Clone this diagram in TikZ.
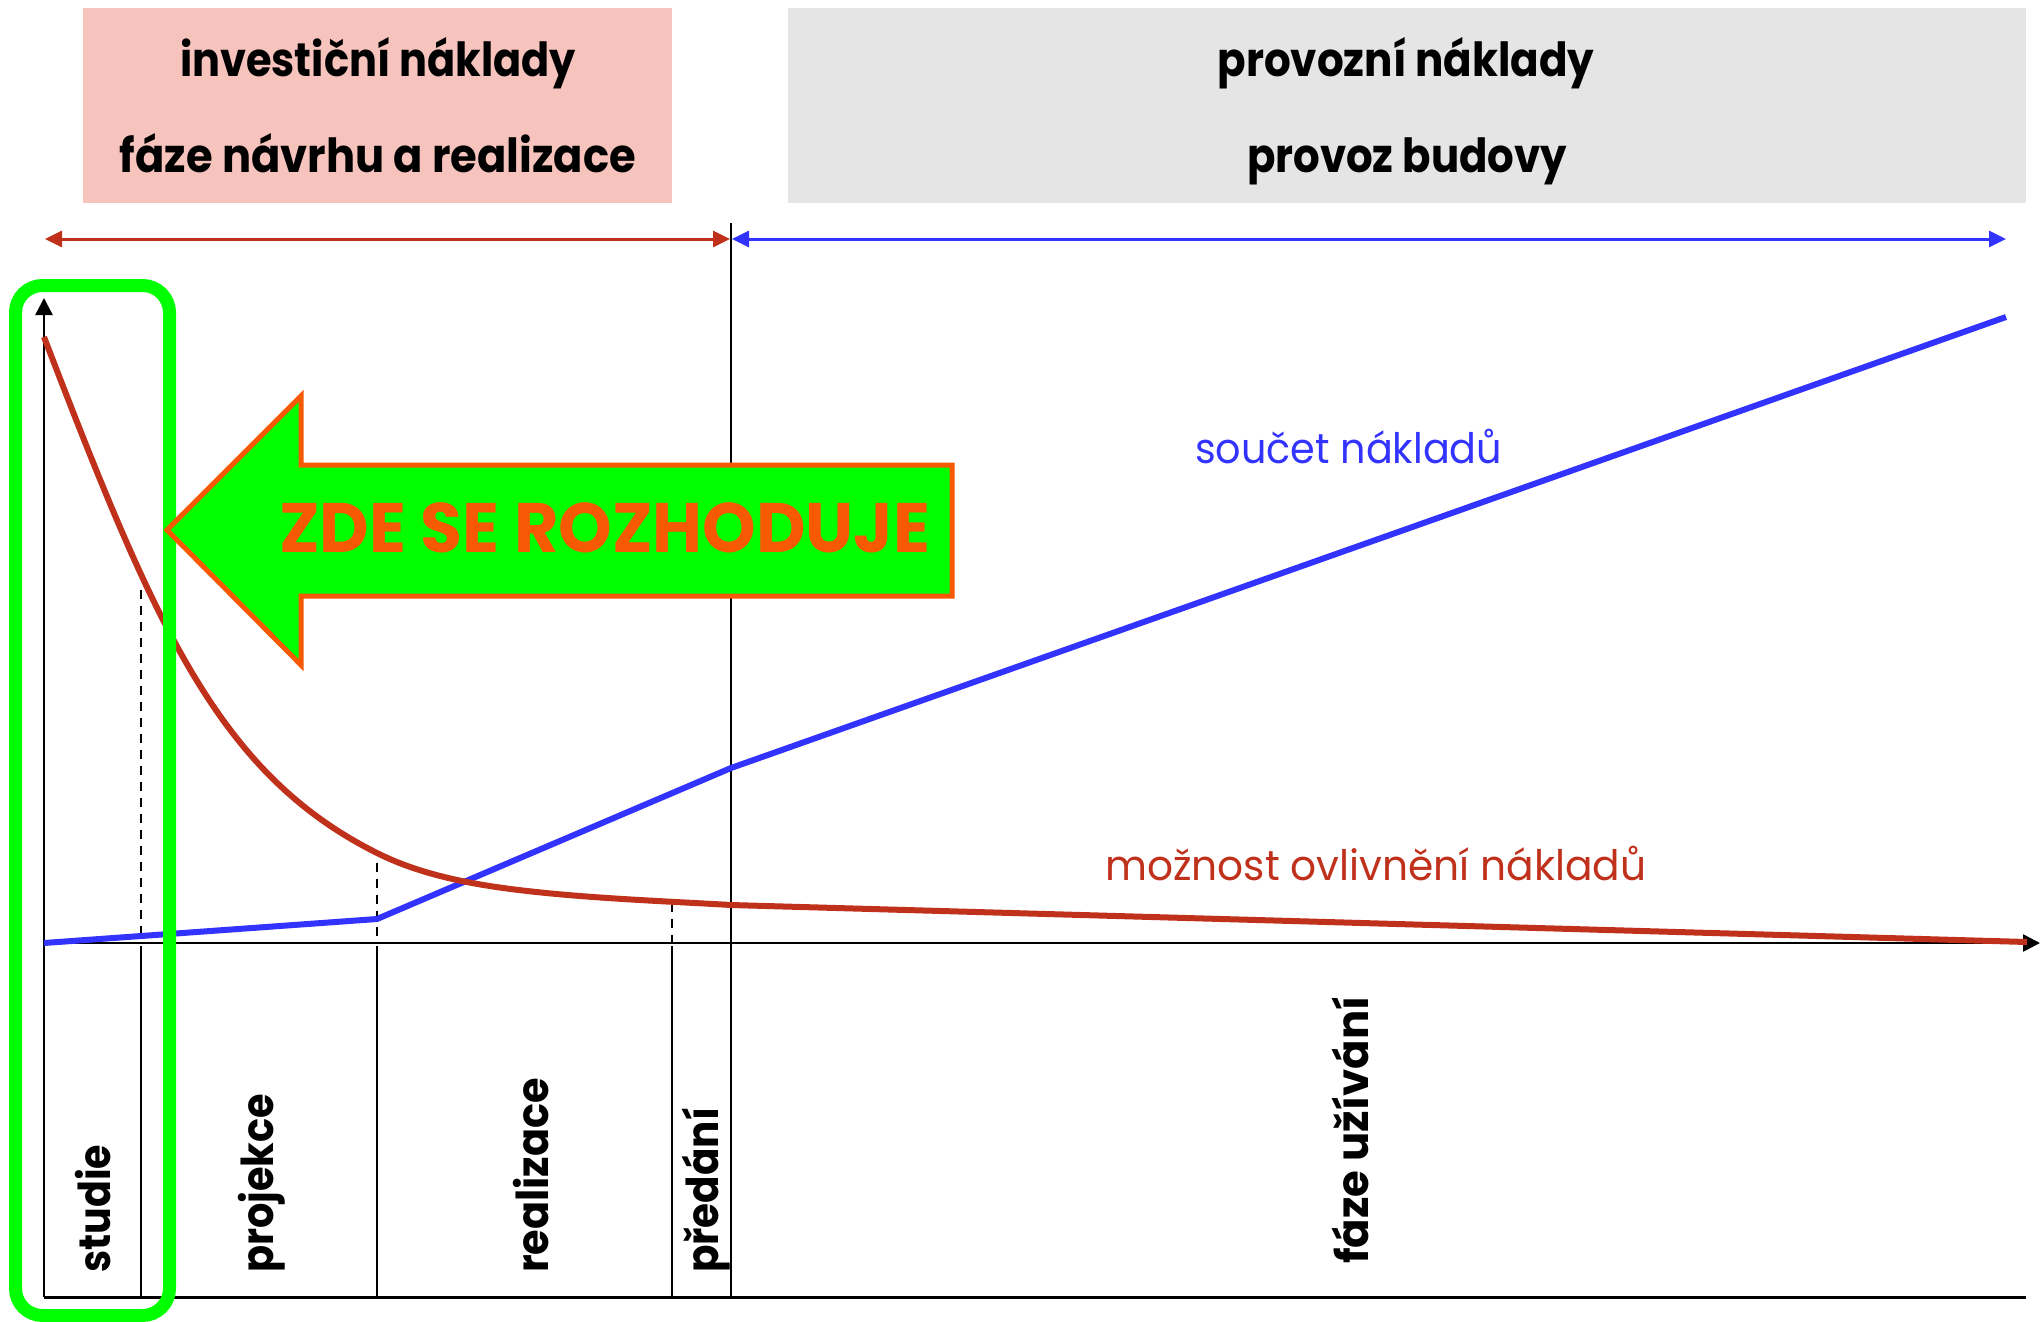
\documentclass[tikz,border=0pt]{standalone}
\usepackage{fontspec}
\setmainfont{Poppins}
\usepackage{graphicx}
\usetikzlibrary{arrows.meta}
\definecolor{cred}{RGB}{192,49,28}
\definecolor{cblue}{RGB}{51,51,255}
\definecolor{cgreen}{RGB}{0,255,0}
\definecolor{corange}{RGB}{247,89,5}
\definecolor{cpink}{RGB}{246,195,189}
\definecolor{cgrey}{RGB}{229,229,229}
\newcommand\fitw[2]{\resizebox{#1}{\height}{#2}}
\tikzset{
  hd/.style={inner sep=0pt, anchor=base, font=\bfseries\fontsize{47}{50}\selectfont},
  phase/.style={inner sep=0pt, anchor=base west, rotate=90, font=\bfseries\fontsize{44}{48}\selectfont},
  lbl/.style={inner sep=0pt, anchor=base west, font=\fontsize{42}{46}\selectfont},
  sepline/.style={line width=2.2pt},
  dsh/.style={line width=2.2pt, dash pattern=on 9pt off 7pt},
  axis/.style={line width=2.5pt, -{Triangle[length=17pt,width=17pt]}},
  span/.style={line width=3pt, {Triangle[length=17pt,width=16pt]}-{Triangle[length=17pt,width=16pt]}},
  curve/.style={line width=6pt},
}
\begin{document}
\begin{tikzpicture}[x=1pt,y=-1pt]
\useasboundingbox (0,0) rectangle (2040,1322);
% header boxes
\fill[cpink] (83,8) rectangle (672,203);
\fill[cgrey] (788,8) rectangle (2026,203);
\node[hd] (h1) at (378,76) {\fitw{396pt}{investiční náklady}};
\node[hd] (h2) at (378,172) {\fitw{516pt}{fáze návrhu a realizace}};
\node[hd] (h3) at (1406,76) {\fitw{377pt}{provozní náklady}};
\node[hd] (h4) at (1407,172) {\fitw{320pt}{provoz budovy}};
% coordinates
\coordinate (o) at (44,943);
\coordinate (ytop) at (44,298);
\coordinate (ybot) at (44,1297);
\coordinate (xend) at (2040,943);
\coordinate (bend) at (2026,1297);
\coordinate (vtop) at (731,223);
\coordinate (vbot) at (731,1297);
\coordinate (ra1) at (45,239);
\coordinate (ra2) at (730,239);
\coordinate (ba1) at (732,239);
\coordinate (ba2) at (2006,239);
% span arrows
\draw[span, cred] (ra1) -- (ra2);
\draw[span, cblue] (ba1) -- (ba2);
% frame lines
\draw[sepline, line width=2.5pt] (vtop) -- (vbot);
\draw[sepline, line width=3pt] (ybot) -- (bend);
\draw[axis] (ybot) -- (ytop);
\draw[axis] (o) -- (xend);
% separators
\draw[sepline] (141,946) -- (141,1297);
\draw[sepline] (377,946) -- (377,1297);
\draw[sepline] (672,946) -- (672,1297);
\draw[dsh] (141,590) -- (141,943);
\draw[dsh] (377,863) -- (377,943);
\draw[dsh] (672,903) -- (672,943);
% curves
\draw[curve, cblue, line join=round] (o) -- (377,919) -- (731,768) -- (2006,317);
\draw[curve, cred, line join=round] (44,337) .. controls (154,623) and (217,773) .. (377,853)
  .. controls (427,878) and (486,887) .. (546,893)
  .. controls (606,899) and (680,902) .. (731,905) -- (2027,942);
% labels
\node[lbl, text=cblue] (soucet) at (1195,463) {\fitw{307pt}{součet nákladů}};
\node[lbl, text=cred] (moznost) at (1105,880) {\fitw{541pt}{možnost ovlivnění nákladů}};
% phase labels
\node[phase] (p1) at (110,1273) {\fitw{128pt}{studie}};
\node[phase] (p2) at (273,1273) {\fitw{179pt}{projekce}};
\node[phase] (p3) at (548,1273) {\fitw{195pt}{realizace}};
\node[phase] (p4) at (718,1273) {\fitw{165pt}{předání}};
\node[phase] (p5) at (1368,1264) {\fitw{267pt}{fáze užívání}};
% green highlight box
\draw[cgreen, line width=13pt, rounded corners=27pt] (15.5,285.5) rectangle (169.5,1315.5);
% big arrow
\draw[corange, fill=cgreen, line width=5pt] (167,530) -- (301,396) -- (301,465) -- (952,465) -- (952,596) -- (301,596) -- (301,665) -- cycle;
\node[inner sep=0pt, anchor=base west, text=corange, font=\bfseries\fontsize{70}{74}\selectfont] (zde) at (279,552) {\fitw{651pt}{ZDE SE ROZHODUJE}};
\end{tikzpicture}
\end{document}
